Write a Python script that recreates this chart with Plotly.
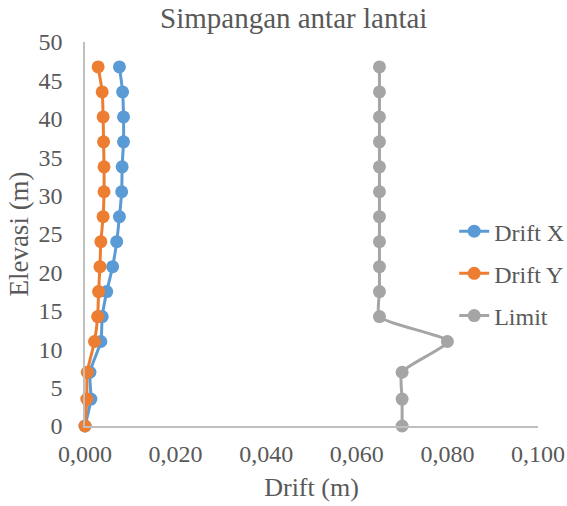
import plotly.graph_objects as go

# Storey elevations (m)
elevasi = [0, 3.5, 7, 11, 14.25, 17.5, 20.75, 24, 27.25, 30.5, 33.75, 37, 40.25, 43.5, 46.75]

# Inter-storey drift (m)
drift_x = [0.0, 0.0013, 0.0011, 0.0035, 0.0038, 0.0048, 0.0061, 0.0070, 0.0076,
           0.0081, 0.0082, 0.0085, 0.0085, 0.0083, 0.0076]
drift_y = [0.0, 0.0004, 0.0005, 0.0021, 0.0028, 0.0030, 0.0033, 0.0035, 0.0040,
           0.0042, 0.0042, 0.0041, 0.0040, 0.0038, 0.0029]
limit = [0.070, 0.070, 0.070, 0.080, 0.065, 0.065, 0.065, 0.065, 0.065,
         0.065, 0.065, 0.065, 0.065, 0.065, 0.065]

series = [
    ("Drift X", drift_x, "#5B9BD5"),
    ("Drift Y", drift_y, "#ED7D31"),
    ("Limit", limit, "#A5A5A5"),
]

FONT = "Liberation Serif, Times New Roman, serif"
TXT = "#595959"

fig = go.Figure()
for name, vals, color in series:
    fig.add_trace(go.Scatter(
        x=vals, y=elevasi, name=name, legendgroup=name,
        mode="lines+markers",
        line=dict(color=color, width=3, shape="spline", smoothing=0.6),
        marker=dict(color=color, size=13),
        cliponaxis=False,
    ))

fig.update_layout(
    width=567, height=506,
    margin=dict(l=85, r=29, t=42, b=80, autoexpand=False),
    paper_bgcolor="white", plot_bgcolor="white",
    separators=",.",
    font=dict(family=FONT, size=24, color=TXT),
    title=dict(text="Simpangan antar lantai", x=0.518, xanchor="center",
               y=0.965, yanchor="middle", font=dict(size=29, color=TXT)),
    showlegend=True,
    legend=dict(x=0.815, xanchor="left", y=0.397, yanchor="middle",
                yref="paper", bgcolor="rgba(0,0,0,0)",
                font=dict(size=24, color=TXT),
                traceorder="grouped", tracegroupgap=8),
    xaxis=dict(range=[0, 0.1], dtick=0.02, tick0=0, tickformat=".3f",
               showgrid=False, zeroline=False, showline=True,
               linecolor="#BFBFBF", linewidth=1.5, ticks="",
               ticklabelstandoff=5, automargin=False,
               title=dict(text="Drift (m)", standoff=12, font=dict(size=26))),
    yaxis=dict(range=[0, 50], dtick=5, tick0=0,
               showgrid=False, zeroline=False, showline=True,
               linecolor="#BFBFBF", linewidth=1.5, ticks="",
               ticklabelstandoff=16, automargin=False,
               title=dict(text="Elevasi (m)", standoff=2, font=dict(size=27))),
)

fig.write_html("out.html")
